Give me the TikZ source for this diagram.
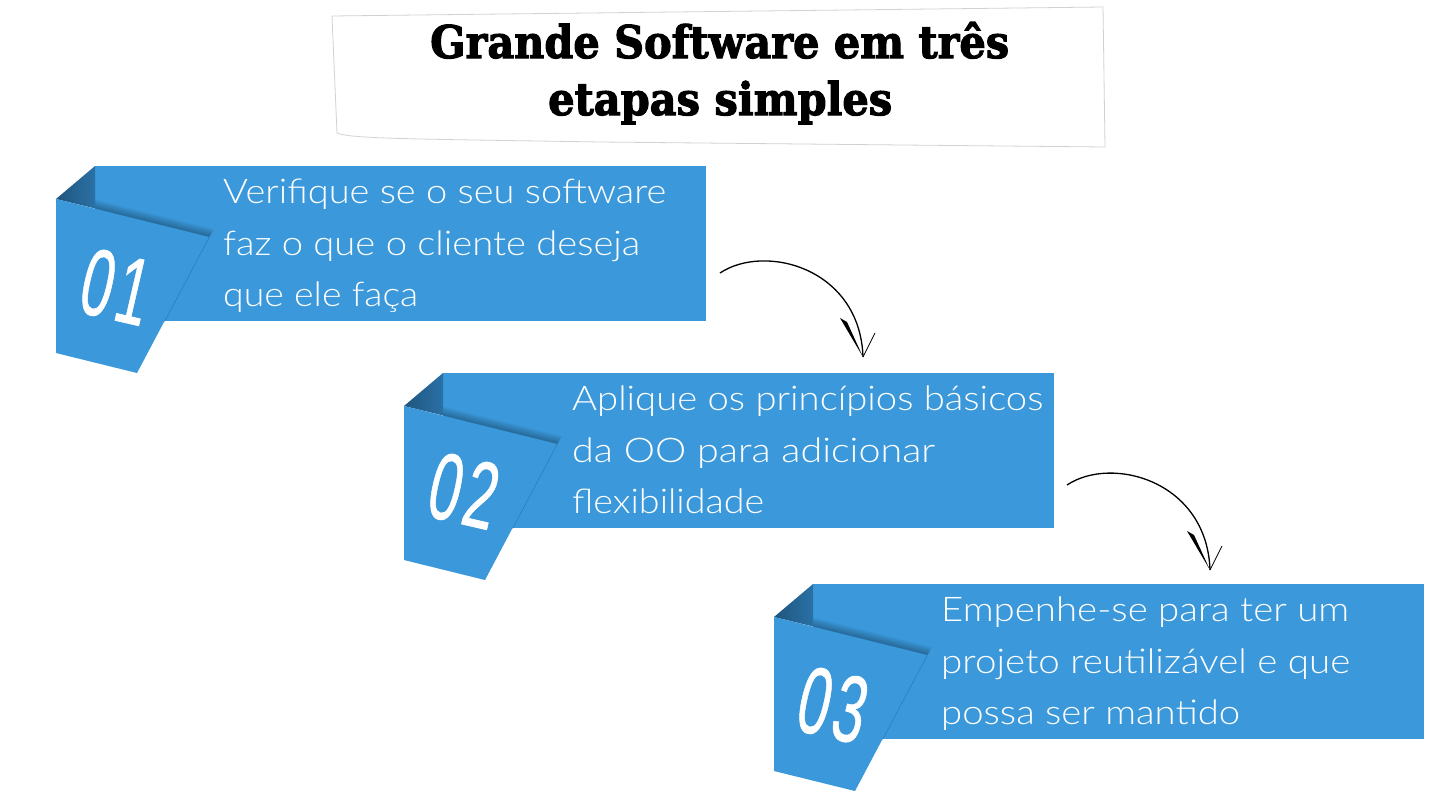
\documentclass[tikz,border=0pt]{standalone}
\usepackage{fontspec}
\usepackage{graphicx}
\setmainfont{Lato}
\newfontfamily\bodyfont{Lato Light}
\newfontfamily\titlefont[BoldFeatures={FakeBold=2.5}]{DejaVu Serif}
\newfontfamily\numfont[FakeBold=0.8]{Liberation Sans}
\definecolor{rib}{HTML}{3A98DB}
\definecolor{ribdark}{HTML}{2A71A6}
\tikzset{
  ribbonfill/.style={fill=rib},
  shadowlayer/.style={fill=black, opacity=0.05},
  linetext/.style={anchor=base west, inner sep=0pt, text=white, font=\bodyfont\fontsize{34}{40}\selectfont},
  numtext/.style={inner sep=0pt, text=white, rotate=-13, font=\numfont\fontsize{95}{95}\selectfont},
  titletext/.style={anchor=base west, inner sep=0pt, text=black, font=\titlefont\bfseries\fontsize{45}{50}\selectfont},
  arrowline/.style={draw=black, line width=1.3pt},
  barbthin/.style={draw=black, line width=0.8pt},
}
\newcommand{\panelpath}{(-39,33) -- (114,71) -- (42,207) -- (-39,187) -- cycle}
\newcommand{\ribbonshape}{%
    \fill[ribbonfill] (0,0) rectangle (611,155);
    \begin{scope}
      \clip (0,0) rectangle (611,155);
      \foreach \k in {1,...,6} {
        \fill[shadowlayer, shift={(0.8*\k,-1.3*\k)}] \panelpath;
      }
    \end{scope}
    \shade[left color=ribdark!75!black, right color=ribdark] (0,0) -- (-39,33) -- (0,42.5) -- cycle;
    \fill[ribbonfill] \panelpath;
}
\newcommand{\digits}[2]{\scalebox{0.6}[1]{#1\kern7pt#2}}
\begin{document}
\begin{tikzpicture}[x=1pt,y=-1pt]
\useasboundingbox (0,0) rectangle (1440,811);
\fill[white] (0,0) rectangle (1440,811);

% title box
\draw[draw=gray!35, fill=white, line width=0.8pt] (332,16) -- (1103,7) -- (1105,147) -- (600,142) .. controls (420,139) and (350,139) .. (337,133) -- cycle;
\node[titletext] (t1) at (430,58) {\resizebox{579pt}{\height}{Grande Software em três}};
\node[titletext] (t2) at (548,115) {\resizebox{344pt}{\height}{etapas simples}};

% ribbon 1
\begin{scope}[shift={(95,166)}]
  \ribbonshape
  \node[numtext] (n1) at (21,121) {\digits{0}{1}};
  \node[linetext] (r1a) at (128,37) {\resizebox{443pt}{\height}{Verifique se o seu software}};
  \node[linetext] (r1b) at (128,89) {\resizebox{417pt}{\height}{faz o que o cliente deseja}};
  \node[linetext] (r1c) at (128,140) {\resizebox{195pt}{\height}{que ele faça}};
  \coordinate (a1s) at (625,107);
\end{scope}

% ribbon 2
\begin{scope}[shift={(443,373)}]
  \ribbonshape
  \node[numtext] (n2) at (21,118) {\digits{0}{2}};
  \node[linetext] (r2a) at (129,37) {\resizebox{471pt}{\height}{Aplique os princípios básicos}};
  \node[linetext] (r2b) at (129,89) {\resizebox{363pt}{\height}{da OO para adicionar}};
  \node[linetext] (r2c) at (129,140) {\resizebox{192pt}{\height}{flexibilidade}};
  \coordinate (a1e) at (420,-16);
  \coordinate (a2s) at (624,112);
\end{scope}

% ribbon 3
\begin{scope}[shift={(813,584)}]
  \ribbonshape
  \node[numtext] (n3) at (20,121) {\digits{0}{3}};
  \node[linetext] (r3a) at (128,37) {\resizebox{408pt}{\height}{Empenhe-se para ter um}};
  \node[linetext] (r3b) at (128,89) {\resizebox{409pt}{\height}{projeto reutilizável e que}};
  \node[linetext] (r3c) at (128,140) {\resizebox{299pt}{\height}{possa ser mantido}};
  \coordinate (a2e) at (397,-14);
\end{scope}

% arrows
\draw[arrowline] (a1s) .. controls +(45,-30) and +(-3,-89) .. (a1e);
\fill (a1e) -- +(-23,-39) -- +(-16,-35) -- cycle;
\draw[barbthin] (a1e) -- +(12,-24);

\draw[arrowline] (a2s) .. controls +(45,-30) and +(-3,-89) .. (a2e);
\fill (a2e) -- +(-23,-39) -- +(-16,-35) -- cycle;
\draw[barbthin] (a2e) -- +(12,-24);
\end{tikzpicture}
\end{document}
